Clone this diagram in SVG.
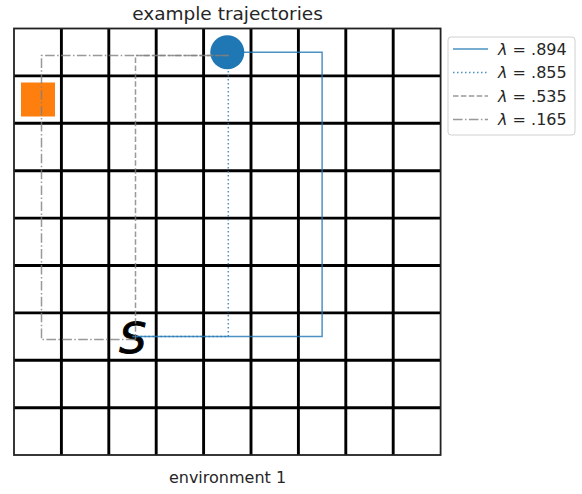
<svg xmlns="http://www.w3.org/2000/svg" width="582" height="494" viewBox="0 0 582 494">
<style>
text{font-family:"DejaVu Sans","Liberation Sans",sans-serif;fill:#262626}
.grid line{stroke:#000;stroke-width:2.9}
.traj{fill:none;stroke-width:1.5}
.blue{stroke:#1f77b4;stroke-opacity:.8}
.gray{stroke:#7f7f7f;stroke-opacity:.8}
.solid{}
.dotted{stroke-dasharray:1.5 2.5}
.dashed{stroke-dasharray:5.5 2.4}
.dashdot{stroke-dasharray:9.6 2.4 1.5 2.4}
.leg{font-size:16px}
</style>
<rect width="582" height="494" fill="#fff"/>
<text x="227.5" y="20" font-size="18.5" text-anchor="middle">example trajectories</text>
<g id="grid" class="grid">
<line x1="61.4" y1="28.5" x2="61.4" y2="455"/>
<line x1="108.8" y1="28.5" x2="108.8" y2="455"/>
<line x1="156.2" y1="28.5" x2="156.2" y2="455"/>
<line x1="203.6" y1="28.5" x2="203.6" y2="455"/>
<line x1="251" y1="28.5" x2="251" y2="455"/>
<line x1="298.4" y1="28.5" x2="298.4" y2="455"/>
<line x1="345.8" y1="28.5" x2="345.8" y2="455"/>
<line x1="393.2" y1="28.5" x2="393.2" y2="455"/>
<line x1="14" y1="75.9" x2="440.6" y2="75.9"/>
<line x1="14" y1="123.3" x2="440.6" y2="123.3"/>
<line x1="14" y1="170.7" x2="440.6" y2="170.7"/>
<line x1="14" y1="218.1" x2="440.6" y2="218.1"/>
<line x1="14" y1="265.5" x2="440.6" y2="265.5"/>
<line x1="14" y1="312.9" x2="440.6" y2="312.9"/>
<line x1="14" y1="360.3" x2="440.6" y2="360.3"/>
<line x1="14" y1="407.7" x2="440.6" y2="407.7"/>
<rect x="14" y="28.5" width="426.6" height="426.5" fill="none" stroke="#222" stroke-width="1.8"/>
</g>
<g id="goal"><circle cx="227.3" cy="52.2" r="17" fill="#1f77b4"/></g>
<g id="object"><rect x="21" y="82.5" width="34" height="34" fill="#ff7f0e"/></g>
<g id="start"><text x="133" y="353" font-size="43" font-style="italic" text-anchor="middle" style="fill:#000;stroke:#000;stroke-width:0.9">S</text></g>
<g id="connectors">
<path class="traj blue solid" d="M132.5,336.6 H322.1 V52.2 H227.3"/>
<path class="traj blue dotted" d="M132.5,336.6 H228.3 V52.2"/>
<path class="traj gray dashed" d="M135.5,339.6 V55.6 H229"/>
<path class="traj gray dashdot" d="M135.5,339.6 H41.5 V55.6 H229"/>
</g>
<text x="227.5" y="483" font-size="16" text-anchor="middle">environment 1</text>
<g id="legend">
<rect x="448" y="37" width="127" height="98" rx="3" fill="#fff" stroke="#d0d0d0" stroke-width="1"/>
<line class="traj blue solid" x1="453" y1="49" x2="488" y2="49"/>
<line class="traj blue dotted" x1="453" y1="72.5" x2="488" y2="72.5"/>
<line class="traj gray dashed" x1="453" y1="96" x2="488" y2="96"/>
<line class="traj gray dashdot" x1="453" y1="119.5" x2="488" y2="119.5"/>
<text class="leg" x="498" y="54.5"><tspan font-style="italic">λ</tspan> = .894</text>
<text class="leg" x="498" y="78"><tspan font-style="italic">λ</tspan> = .855</text>
<text class="leg" x="498" y="101.5"><tspan font-style="italic">λ</tspan> = .535</text>
<text class="leg" x="498" y="125"><tspan font-style="italic">λ</tspan> = .165</text>
</g>
</svg>
